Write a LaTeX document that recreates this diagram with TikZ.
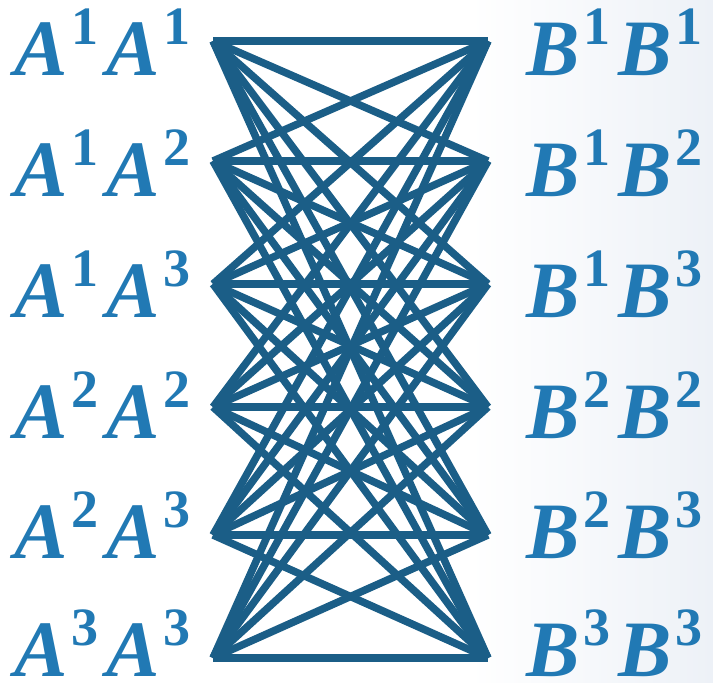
\documentclass[tikz,border=0pt]{standalone}
\usepackage{fontspec}
\setmainfont{Liberation Serif}
\definecolor{edgeblue}{HTML}{1B5E87}
\definecolor{textblue}{HTML}{2179B4}
\definecolor{bgtint}{HTML}{EDF1F7}
\newcommand\pw[2]{#1\kern4pt\raisebox{31pt}{\fontsize{54}{54}\selectfont\upshape #2}}
\newcommand\lblpair[3]{\fontsize{80}{80}\selectfont\bfseries\itshape\pw{#1}{#2}\kern8pt\pw{#1}{#3}}
\begin{document}
\begin{tikzpicture}[x=1pt,y=-1pt,
  edge/.style={draw=edgeblue,line width=7.5pt},
  lbl/.style={anchor=base west,inner sep=0pt,text=textblue}]
\useasboundingbox (0,0) rectangle (713,683);
\fill[white] (0,0) rectangle (713,683);
\shade[left color=white,right color=bgtint] (470,0) rectangle (713,683);
% vertices
\foreach \k/\y in {1/41,2/161,3/284,4/407,5/535,6/658}{
  \coordinate (L\k) at (213,\y);
  \coordinate (R\k) at (488,\y);
}
\foreach \i in {1,...,6}{
  \foreach \j in {1,...,6}{
    \draw[edge] (L\i) -- (R\j);
  }
}
% labels
\node[lbl] (la1) at (14,75)  {\lblpair{A}{1}{1}};
\node[lbl] (la2) at (14,196) {\lblpair{A}{1}{2}};
\node[lbl] (la3) at (14,317) {\lblpair{A}{1}{3}};
\node[lbl] (la4) at (14,438) {\lblpair{A}{2}{2}};
\node[lbl] (la5) at (14,558) {\lblpair{A}{2}{3}};
\node[lbl] (la6) at (14,676) {\lblpair{A}{3}{3}};
\node[lbl] (lb1) at (526,75)  {\lblpair{B}{1}{1}};
\node[lbl] (lb2) at (526,196) {\lblpair{B}{1}{2}};
\node[lbl] (lb3) at (526,317) {\lblpair{B}{1}{3}};
\node[lbl] (lb4) at (526,438) {\lblpair{B}{2}{2}};
\node[lbl] (lb5) at (526,558) {\lblpair{B}{2}{3}};
\node[lbl] (lb6) at (526,676) {\lblpair{B}{3}{3}};
\end{tikzpicture}
\end{document}
